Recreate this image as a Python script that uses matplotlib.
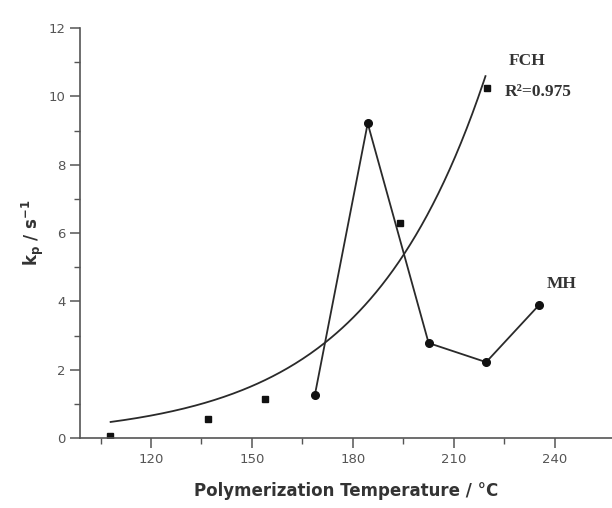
"""Propagation rate constant vs polymerization temperature."""

import numpy as np
import matplotlib.pyplot as plt

# FCH data (unconnected squares)
fch_temp = [107.8, 136.9, 153.8, 193.9, 220.0]
fch_kp = [0.06, 0.56, 1.14, 6.3, 10.23]

# MH data (connected)
mh_temp = [168.7, 184.4, 202.5, 219.6, 235.4]
mh_kp = [1.26, 9.21, 2.78, 2.22, 3.9]

# exponential fit of FCH, y = a * exp(b * x)
fit_a = 0.0229
fit_b = 0.02797
fit_range = (108.0, 219.4)

x_ticks = [120, 150, 180, 210, 240]
y_ticks = [0, 2, 4, 6, 8, 10, 12]

fig = plt.figure(figsize=(6.12, 5.08), dpi=100)
ax = fig.add_axes([80 / 612, 1 - 438 / 508, 1 - 80 / 612, (438 - 28) / 508])

xs = np.linspace(fit_range[0], fit_range[1], 200)
ax.plot(xs, fit_a * np.exp(fit_b * xs), color="#2a2a2a", lw=1.3)

ax.plot(mh_temp, mh_kp, color="#2a2a2a", lw=1.3, marker="o",
        ms=5.5, mfc="#111111", mec="#111111")
ax.plot(fch_temp, fch_kp, ls="none", marker="s", ms=5,
        mfc="#111111", mec="#111111")

ax.set_xlim(98.9, 257)
ax.set_ylim(0, 12)
ax.set_xticks(x_ticks)
ax.set_xticks([105, 135, 165, 195, 225], minor=True)
ax.set_yticks(y_ticks)
ax.set_yticks([1, 3, 5, 7, 9, 11], minor=True)

for side in ("top", "right"):
    ax.spines[side].set_visible(False)
for side in ("left", "bottom"):
    ax.spines[side].set_color("#555555")
    ax.spines[side].set_linewidth(1.2)

ax.tick_params(which="major", direction="out", length=7, width=1.1,
               color="#555555", labelsize=9.5, labelcolor="#555555")
ax.tick_params(which="minor", direction="out", length=4, width=1.0,
               color="#555555")

ax.set_xlabel("Polymerization Temperature / °C", fontsize=12,
              fontweight="bold", color="#333333", labelpad=12)
ax.set_ylabel("k$_{\\mathbf{p}}$ / s$^{\\mathbf{-1}}$", fontsize=12,
              fontweight="bold", color="#333333", labelpad=2)

# labels placed in pixel coordinates (top-left origin)
labels = [(509, 61, "FCH"), (505, 92, "R²=0.975"), (547, 284, "MH")]
for px, py, s in labels:
    ax.text(px, 508 - py, s, transform=None, fontsize=12.5,
            fontweight="bold", family="Liberation Serif", color="#333333",
            va="center")

fig.savefig("out.png", dpi=100)
